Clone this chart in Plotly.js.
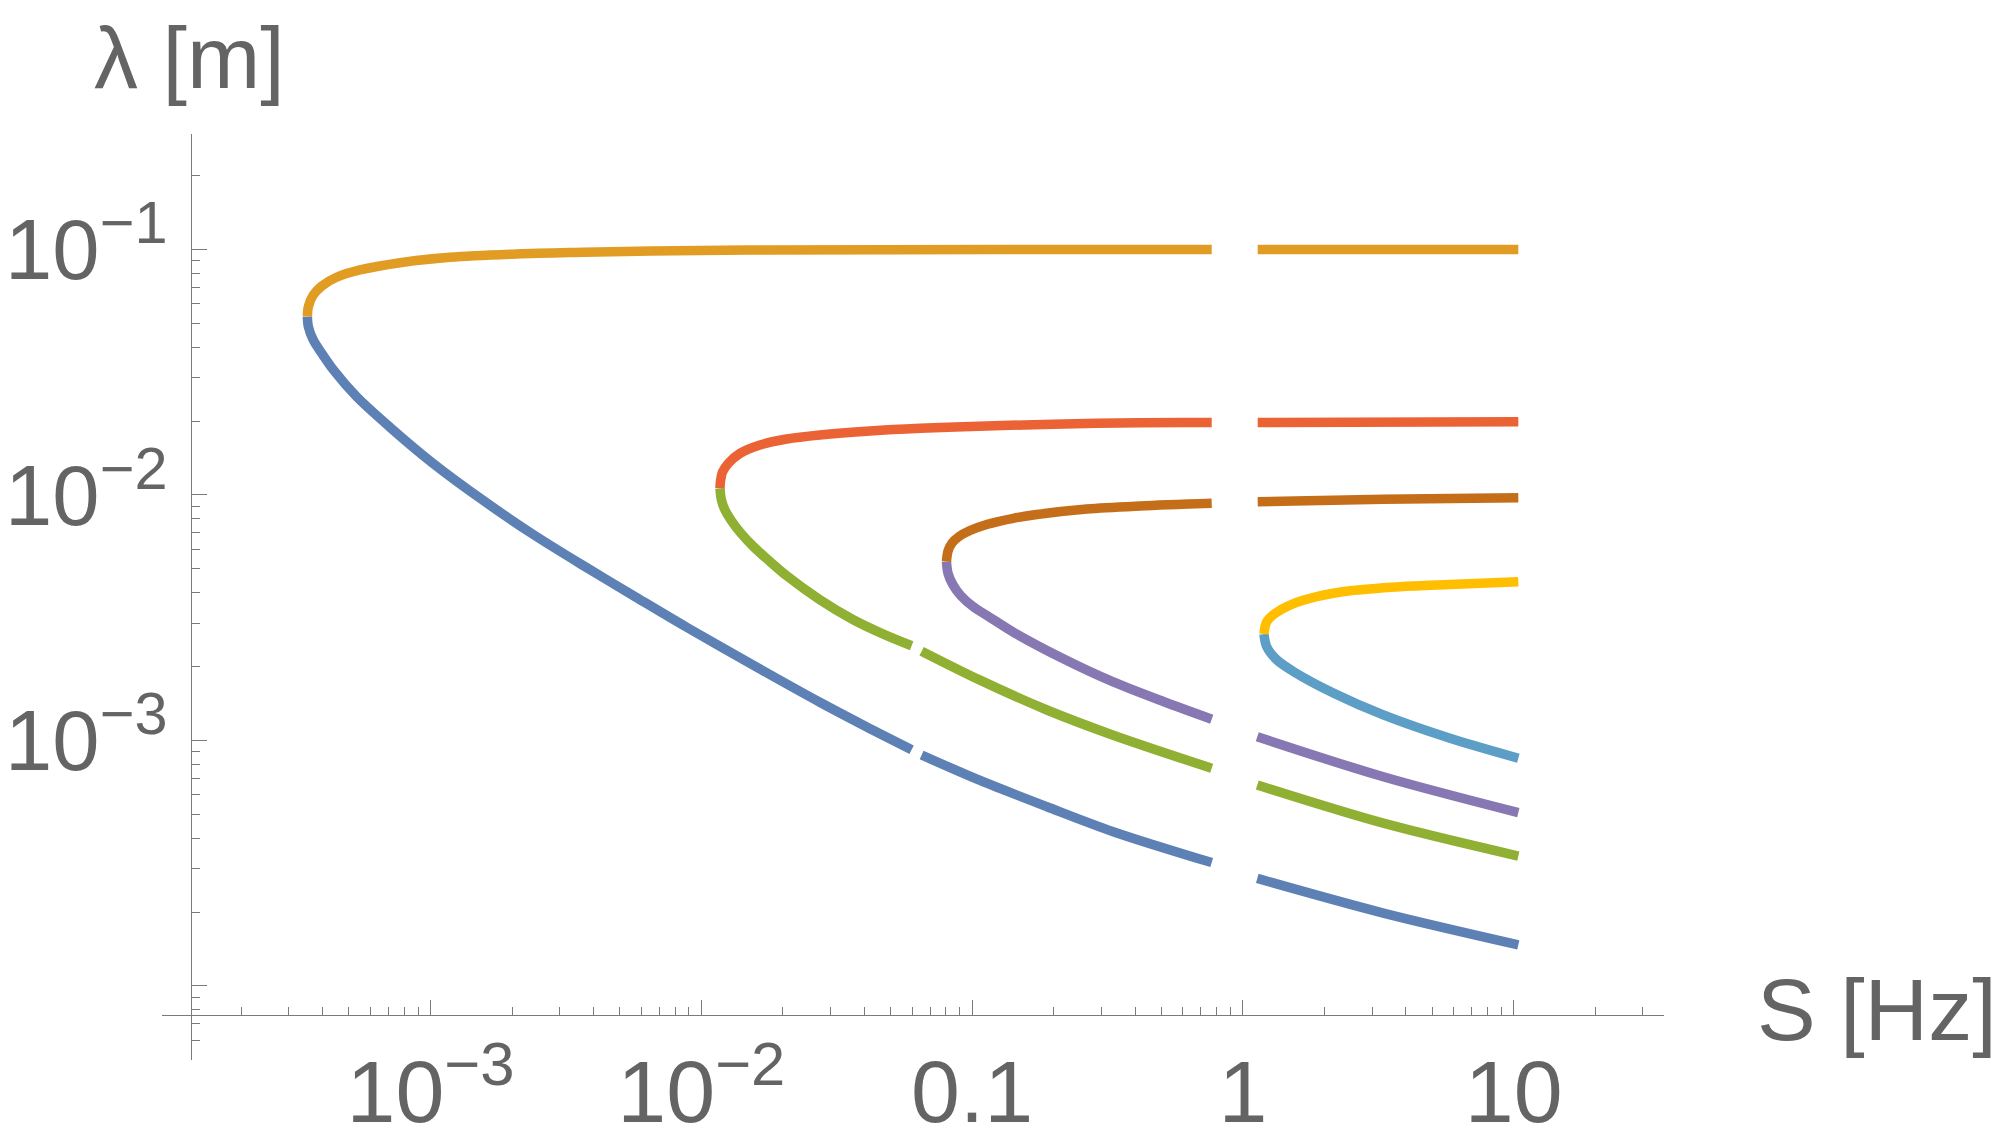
<!DOCTYPE html>
<html>
<head>
<meta charset="utf-8">
<script src="https://cdn.plot.ly/plotly-3.0.1.min.js"></script>
<style>
  html, body { margin: 0; padding: 0; background: #ffffff; }
  #chart { width: 2000px; height: 1145px; }
</style>
</head>
<body>
<div id="chart"></div>
<script>
// ---------- data (S in Hz, lambda in m) ----------
// branch 1 : lower (blue) and upper (orange)
const blueS   = [3.51e-4, 3.54e-4, 3.69e-4, 3.97e-4, 4.38e-4, 5.34e-4, 7.09e-4, 1.02e-3, 1.57e-3, 2.40e-3, 3.67e-3, 5.61e-3, 8.83e-3, 0.0156, 0.0274, 0.0405, 0.0598, null, 0.0651, 0.107, 0.189, 0.332, 0.767, null, 1.130, 3.30, 10.4];
const blueL   = [0.0532, 0.0484, 0.0428, 0.0377, 0.0323, 0.0251, 0.01885, 0.01346, 0.00947, 0.00689, 0.00515, 0.00389, 0.00289, 0.00202, 0.00143, 0.00114, 9.17e-4, null, 8.72e-4, 6.87e-4, 5.37e-4, 4.25e-4, 3.18e-4, null, 2.74e-4, 1.98e-4, 1.47e-4];
const orangeS = [3.51e-4, 3.54e-4, 3.69e-4, 3.97e-4, 4.50e-4, 5.49e-4, 7.72e-4, 1.18e-3, 2.08e-3, 3.67e-3, 6.47e-3, 0.0151, 0.127, 0.767, null, 1.134, 10.4];
const orangeL = [0.0532, 0.0584, 0.0652, 0.0710, 0.0770, 0.0825, 0.0883, 0.0929, 0.0958, 0.0973, 0.0985, 0.0994, 0.0999, 0.100, null, 0.100, 0.100];
// branch 2 : lower (green) and upper (red)
const greenS  = [0.01172, 0.01187, 0.01223, 0.01287, 0.01401, 0.0156, 0.01794, 0.02073, 0.0274, 0.0364, 0.0470, 0.0598, null, 0.0651, 0.107, 0.189, 0.332, 0.767, null, 1.130, 3.30, 10.4];
const greenL  = [0.01064, 0.00953, 0.00868, 0.00790, 0.00698, 0.00615, 0.00535, 0.00467, 0.00374, 0.00310, 0.00271, 0.00243, null, 0.00231, 0.00176, 0.00133, 0.00105, 7.70e-4, null, 6.58e-4, 4.60e-4, 3.38e-4];
const redS    = [0.01172, 0.01178, 0.01198, 0.01258, 0.01390, 0.01647, 0.02067, 0.0274, 0.0420, 0.0642, 0.113, 0.199, 0.417, 0.767, null, 1.134, 10.4];
const redL    = [0.01064, 0.01145, 0.01240, 0.01345, 0.01477, 0.01597, 0.01689, 0.01754, 0.01821, 0.01867, 0.01909, 0.0194, 0.01968, 0.01970, null, 0.01972, 0.01987];
// branch 3 : lower (purple) and upper (brown)
const purpleS = [0.0804, 0.0815, 0.0850, 0.0910, 0.1008, 0.1164, 0.1419, 0.2172, 0.332, 0.508, 0.767, null, 1.130, 3.30, 10.4];
const purpleL = [0.00535, 0.00479, 0.00430, 0.00388, 0.00351, 0.00317, 0.00276, 0.00215, 0.00173, 0.00144, 0.00122, null, 0.001035, 7.11e-4, 5.08e-4];
const brownS  = [0.0804, 0.0815, 0.0843, 0.0895, 0.0982, 0.1132, 0.1419, 0.1732, 0.265, 0.417, 0.767, null, 1.134, 3.30, 10.4];
const brownL  = [0.00535, 0.00591, 0.00637, 0.00677, 0.00716, 0.00758, 0.00803, 0.00832, 0.00876, 0.00901, 0.00924, null, 0.00938, 0.00960, 0.00974];
// branch 4 : lower (light blue) and upper (yellow)
const ltblueS = [1.196, 1.224, 1.333, 1.535, 2.157, 3.30, 5.819, 10.4];
const ltblueL = [0.00271, 0.00241, 0.00213, 0.00191, 0.00156, 0.00127, 0.00102, 8.46e-4];
const yellowS = [1.196, 1.224, 1.314, 1.492, 1.873, 2.486, 3.803, 5.819, 10.4];
const yellowL = [0.00271, 0.00304, 0.00329, 0.00356, 0.00385, 0.00407, 0.00423, 0.00432, 0.00443];

// ---------- tick labels ----------
const xTickVals = [1e-3, 1e-2, 0.1, 1, 10];
const xTickText = ['10<sup>\u22123</sup>', '10<sup>\u22122</sup>', '0.1', '1', '10'];
const yTickVals = [1e-4, 1e-3, 1e-2, 1e-1];
const yTickText = [' ', '10<sup>\u22123</sup>', '10<sup>\u22122</sup>', '10<sup>\u22121</sup>'];
const xTitle = 'S [Hz]';
const yTitle = '\u03bb [m]';

// ---------- styling ----------
const palette = {
  blue: '#5E81B5', orange: '#E19C24', green: '#8FB032', red: '#EB6235',
  purple: '#8778B3', brown: '#C56E1A', ltblue: '#5D9EC7', yellow: '#FFBF00'
};
const LW = 9.5;
function curve(xs, ys, color) {
  return {
    type: 'scatter', mode: 'lines', x: xs, y: ys, connectgaps: false,
    line: { color: color, width: LW, shape: 'spline', smoothing: 0.9 },
    hoverinfo: 'skip', showlegend: false
  };
}
const traces = [
  curve(blueS, blueL, palette.blue),
  curve(orangeS, orangeL, palette.orange),
  curve(greenS, greenL, palette.green),
  curve(redS, redL, palette.red),
  curve(purpleS, purpleL, palette.purple),
  curve(brownS, brownL, palette.brown),
  curve(ltblueS, ltblueL, palette.ltblue),
  curve(yellowS, yellowL, palette.yellow)
];

function minorTicks(lo, hi) {
  const out = [];
  for (let e = lo; e <= hi; e++) {
    for (let d = 2; d <= 9; d++) out.push(d * Math.pow(10, e));
  }
  return out;
}

const AX = '#7a7a7a';
const TXT = '#646464';
const FONT = 'Liberation Sans, Arial, Helvetica, sans-serif';

const layout = {
  width: 2000, height: 1145,
  margin: { l: 162, r: 336, t: 134, b: 85, pad: 0 },
  paper_bgcolor: '#ffffff', plot_bgcolor: '#ffffff',
  showlegend: false,
  font: { family: FONT, color: TXT },
  xaxis: {
    type: 'log', range: [-3.9915, 1.555], autorange: false,
    anchor: 'free', position: 0.0486, side: 'bottom',
    showline: true, linecolor: AX, linewidth: 1,
    showgrid: false, zeroline: false,
    ticks: 'inside', ticklen: 15, tickwidth: 1, tickcolor: AX,
    tickmode: 'array', tickvals: xTickVals, ticktext: xTickText,
    tickfont: { family: FONT, size: 88, color: TXT },
    ticklabelstandoff: 0,
    minor: { tickmode: 'array', tickvals: minorTicks(-4, 1), ticks: 'inside', ticklen: 8, tickwidth: 1, tickcolor: AX, showgrid: false },
    automargin: false, fixedrange: true
  },
  yaxis: {
    type: 'log', range: [-4.3018, -0.5299], autorange: false,
    anchor: 'free', position: 0.01964, side: 'left',
    showline: true, linecolor: AX, linewidth: 1,
    showgrid: false, zeroline: false,
    ticks: 'inside', ticklen: 15, tickwidth: 1, tickcolor: AX,
    tickmode: 'array', tickvals: yTickVals, ticktext: yTickText,
    tickfont: { family: FONT, size: 85, color: TXT },
    ticklabelstandoff: 7,
    minor: { tickmode: 'array', tickvals: minorTicks(-5, -1), ticks: 'inside', ticklen: 8, tickwidth: 1, tickcolor: AX, showgrid: false },
    automargin: false, fixedrange: true
  },
  annotations: [
    { text: yTitle, xref: 'paper', yref: 'paper', x: 0.0183, y: 1.083,
      xanchor: 'center', yanchor: 'middle', showarrow: false,
      font: { family: FONT, size: 88, color: TXT } },
    { text: xTitle, xref: 'paper', yref: 'paper', x: 1.0606, y: 0.055,
      xanchor: 'left', yanchor: 'middle', showarrow: false,
      font: { family: FONT, size: 88, color: TXT } }
  ]
};

Plotly.newPlot('chart', traces, layout, { displayModeBar: false, staticPlot: true });
</script>
</body>
</html>
